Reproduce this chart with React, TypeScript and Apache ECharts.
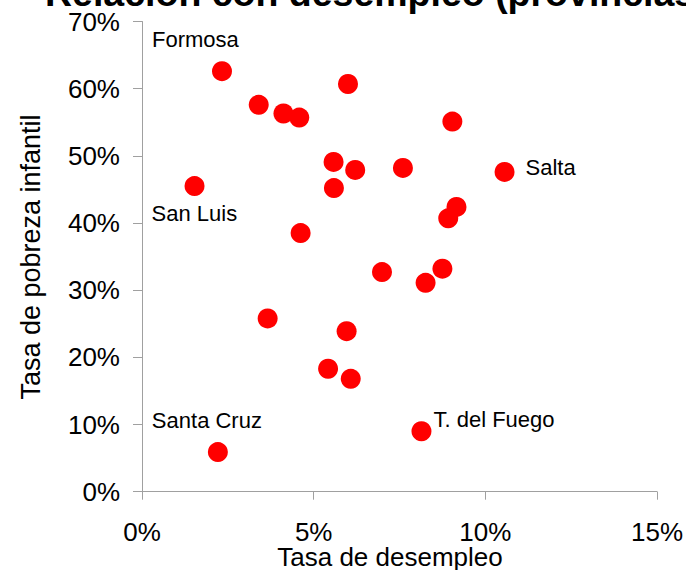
import React, { useEffect, useRef } from "react";
import * as echarts from "echarts";

// Tasa de desempleo (%)
const unemployment = [
  2.33, 3.4, 4.12, 4.58, 6.0, 5.58, 6.21, 5.59, 1.53, 4.62, 7.6, 9.04,
  10.56, 9.16, 8.92, 6.99, 8.75, 8.26, 3.66, 5.96, 5.42, 6.08, 8.14, 2.21,
];
// Tasa de pobreza infantil (%)
const childPoverty = [
  62.6, 57.6, 56.3, 55.7, 60.7, 49.1, 47.9, 45.2, 45.5, 38.5, 48.2, 55.1,
  47.6, 42.4, 40.7, 32.7, 33.2, 31.1, 25.8, 23.9, 18.3, 16.8, 9.0, 5.9,
];
// Provincia etiquetada (vacío = sin etiqueta)
const pointLabels = [
  "Formosa", "", "", "", "", "", "", "", "San Luis", "", "", "",
  "Salta", "", "", "", "", "", "", "", "", "", "T. del Fuego", "Santa Cruz",
];

const xTicks = [0, 5, 10, 15];
const yTicks = [0, 10, 20, 30, 40, 50, 60, 70];

const titleText = "Relación con desempleo (provincias)";
const xName = "Tasa de desempleo";
const yName = "Tasa de pobreza infantil";

// label placement (style): offset of label anchor (left/middle) from point center
const labelOffsets: Record<string, [number, number]> = {
  Formosa: [-70, -32],
  "San Luis": [-43, 27],
  Salta: [21, -4],
  "T. del Fuego": [12, -12],
  "Santa Cruz": [-66, -32],
};

const FONT = "'Liberation Sans', Arial, Helvetica, sans-serif";
const SYM = 20;

export default function App() {
  const ref = useRef<HTMLDivElement>(null);

  useEffect(() => {
    if (!ref.current) return;
    const chart = echarts.init(ref.current, undefined, { renderer: "svg" });

    const data = unemployment.map((x, i) => {
      const name = pointLabels[i];
      const item: any = { value: [x, childPoverty[i]], name };
      if (name) {
        const off = labelOffsets[name] || [12, 0];
        item.label = {
          show: true,
          formatter: name,
          position: [off[0] + SYM / 2, off[1] + SYM / 2],
          align: "left",
          verticalAlign: "middle",
          color: "#000",
          fontSize: 22,
          fontFamily: FONT,
        };
      }
      return item;
    });

    const axisLineStyle = { color: "#a0a0a0", width: 1 };

    chart.setOption({
      animation: false,
      backgroundColor: "#ffffff",
      textStyle: { fontFamily: FONT },
      grid: { left: 142, right: 26, top: 21.5, bottom: 78.3, containLabel: false },
      xAxis: {
        type: "value",
        min: xTicks[0],
        max: xTicks[xTicks.length - 1],
        interval: xTicks[1] - xTicks[0],
        axisLine: { show: true, lineStyle: axisLineStyle },
        axisTick: { show: true, length: 8, inside: false, lineStyle: axisLineStyle },
        splitLine: { show: false },
        axisLabel: {
          formatter: "{value}%",
          fontSize: 26,
          color: "#000",
          fontFamily: FONT,
          margin: 27,
        },
      },
      yAxis: {
        type: "value",
        min: yTicks[0],
        max: yTicks[yTicks.length - 1],
        interval: yTicks[1] - yTicks[0],
        axisLine: { show: true, lineStyle: axisLineStyle },
        axisTick: { show: true, length: 9, inside: false, lineStyle: axisLineStyle },
        splitLine: { show: false },
        axisLabel: {
          formatter: "{value}%",
          fontSize: 26,
          color: "#000",
          fontFamily: FONT,
          margin: 22,
        },
      },
      series: [
        {
          type: "scatter",
          symbol: "circle",
          symbolSize: SYM,
          itemStyle: { color: "#ff0000", opacity: 1 },
          label: { show: false },
          emphasis: { disabled: true },
          data,
        },
      ],
      graphic: [
        {
          type: "text",
          x: 45,
          y: -7,
          style: {
            text: titleText,
            fontSize: 37.5,
            fontWeight: "bold",
            fontFamily: FONT,
            fill: "#000",
            align: "left",
            verticalAlign: "middle",
          },
        },
        {
          type: "text",
          x: 390,
          y: 557,
          style: {
            text: xName,
            fontSize: 26,
            fontFamily: FONT,
            fill: "#000",
            align: "center",
            verticalAlign: "middle",
          },
        },
        {
          type: "text",
          x: 31,
          y: 257,
          rotation: Math.PI / 2,
          style: {
            text: yName,
            fontSize: 27,
            fontFamily: FONT,
            fill: "#000",
            align: "center",
            verticalAlign: "middle",
          },
        },
      ],
    });

    return () => chart.dispose();
  }, []);

  return (
    <div
      ref={ref}
      style={{ position: "fixed", left: 0, top: 0, width: 686, height: 570, background: "#fff" }}
    />
  );
}
